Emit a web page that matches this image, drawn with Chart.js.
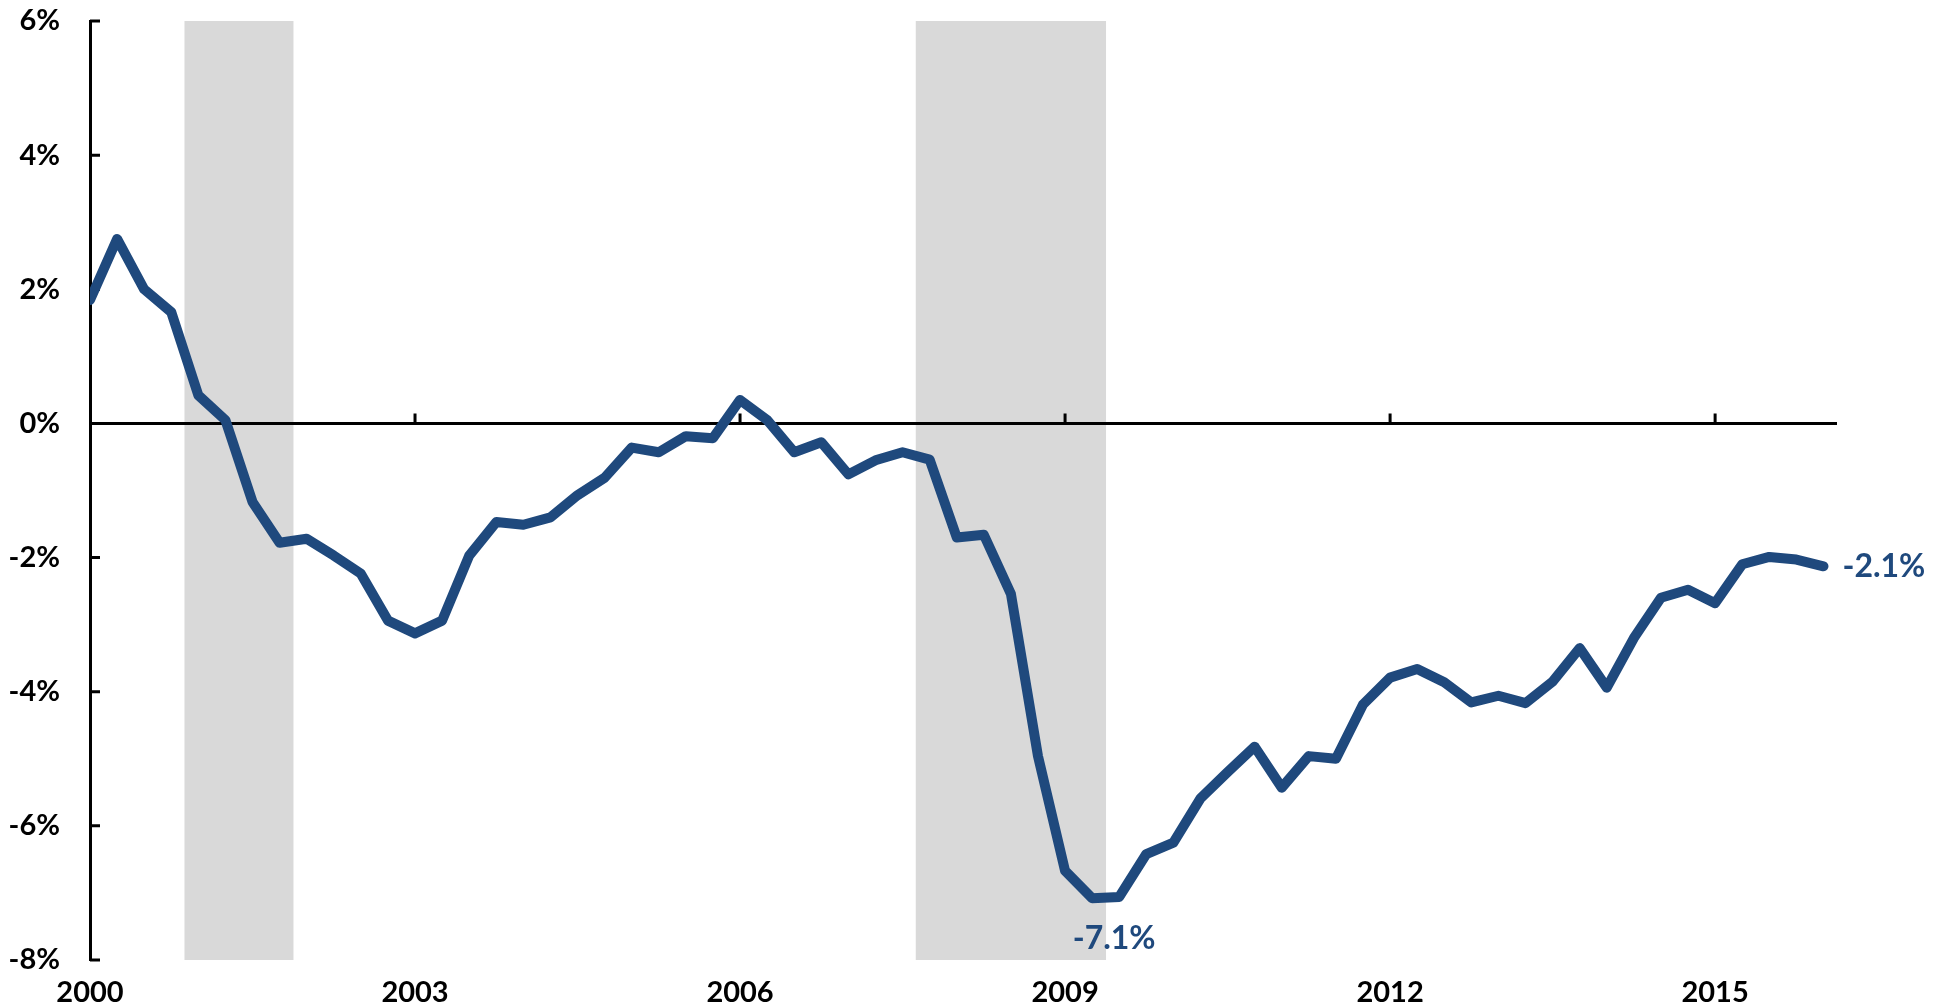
<!DOCTYPE html>
<html>
<head>
<meta charset="utf-8">
<script src="https://cdn.jsdelivr.net/npm/chart.js@4.4.1/dist/chart.umd.min.js"></script>
<style>
  html, body { margin: 0; padding: 0; background: #fff; }
  #wrap { width: 1948px; height: 1006px; position: relative; }
</style>
</head>
<body>
<div id="wrap"><canvas id="chart"></canvas></div>
<script>
// quarterly values, 2000 Q1 .. 2016 Q1 (%)
const startYear = 2000;
const values = [
  1.84, 2.75, 2.00, 1.66, 0.42, 0.05, -1.17, -1.78,
  -1.72, -1.97, -2.24, -2.94, -3.13, -2.94, -1.97, -1.47,
  -1.51, -1.40, -1.07, -0.81, -0.36, -0.43, -0.19, -0.22,
  0.35, 0.05, -0.43, -0.28, -0.76, -0.55, -0.43, -0.54,
  -1.70, -1.66, -2.54, -4.96, -6.67, -7.08, -7.06, -6.42,
  -6.25, -5.59, -5.20, -4.82, -5.43, -4.96, -5.00, -4.19,
  -3.79, -3.66, -3.86, -4.16, -4.06, -4.17, -3.85, -3.35,
  -3.94, -3.20, -2.60, -2.48, -2.68, -2.10, -1.99, -2.03,
  -2.13
];
const recessionQuarters = [
  '2001 Q1', '2001 Q2', '2001 Q3', '2001 Q4',
  '2007 Q4', '2008 Q1', '2008 Q2', '2008 Q3', '2008 Q4', '2009 Q1', '2009 Q2'
];
const xTickLabels = ['2000', '2003', '2006', '2009', '2012', '2015'];
const yTicks = [-8, -6, -4, -2, 0, 2, 4, 6];

const quarters = values.map((v, i) => (startYear + Math.floor(i / 4)) + ' Q' + (i % 4 + 1));

const lineColor = '#1F497D';
const shadeColor = '#D9D9D9';
const fontFamily = 'Lato, "Open Sans", sans-serif';

const yMin = yTicks[0];
const yMax = yTicks[yTicks.length - 1];

// axis decorations: zero line + inward ticks, drawn just before the main line
const axisDecor = {
  id: 'axisDecor',
  beforeDatasetDraw(chart, args) {
    if (args.index !== 1) return;
    const { ctx, chartArea } = chart;
    const x = chart.scales.x, y = chart.scales.y;
    const y0 = y.getPixelForValue(0);
    ctx.save();
    ctx.strokeStyle = '#000';
    ctx.lineWidth = 3;
    ctx.beginPath();
    ctx.moveTo(chartArea.left, y0);
    ctx.lineTo(chartArea.right, y0);
    // y ticks pointing right
    yTicks.forEach(t => {
      const py = y.getPixelForValue(t);
      ctx.moveTo(chartArea.left, py);
      ctx.lineTo(chartArea.left + 10, py);
    });
    // x ticks pointing up from zero line
    x.ticks.forEach(t => {
      if (t.value === 0) return;
      const px = x.getPixelForValue(t.value);
      ctx.moveTo(px, y0);
      ctx.lineTo(px, y0 - 10);
    });
    ctx.stroke();
    ctx.restore();
  },
  afterDatasetsDraw(chart) {
    const { ctx } = chart;
    const pts = chart.getDatasetMeta(1).data;
    const minVal = Math.min(...values);
    const minIdx = values.indexOf(minVal);
    const lastIdx = values.length - 1;
    ctx.save();
    ctx.fillStyle = lineColor;
    ctx.font = 'bold 32px ' + fontFamily;
    ctx.textBaseline = 'middle';
    ctx.textAlign = 'center';
    ctx.fillText(minVal.toFixed(1) + '%', pts[minIdx].x + 22, pts[minIdx].y + 40);
    ctx.textAlign = 'left';
    ctx.fillText(values[lastIdx].toFixed(1) + '%', pts[lastIdx].x + 19, pts[lastIdx].y);
    ctx.restore();
  }
};

const ctx = document.getElementById('chart').getContext('2d');
const chart = new Chart(ctx, {
  type: 'line',
  data: {
    datasets: [
      {
        type: 'bar',
        label: 'Recession',
        data: recessionQuarters.map(q => ({ x: quarters.indexOf(q), y: [yMin, yMax] })),
        backgroundColor: shadeColor,
        borderWidth: 0,
        barPercentage: 1,
        categoryPercentage: 1,
        order: 2
      },
      {
        type: 'line',
        label: 'Series',
        data: values.map((v, i) => ({ x: i, y: v })),
        borderColor: lineColor,
        borderWidth: 10,
        borderCapStyle: 'round',
        borderJoinStyle: 'round',
        pointRadius: 0,
        tension: 0,
        fill: false,
        order: 1
      }
    ]
  },
  options: {
    responsive: true,
    maintainAspectRatio: false,
    animation: false,
    layout: { padding: { top: 21, right: 111, bottom: 0, left: 0 } },
    plugins: {
      legend: { display: false },
      tooltip: { enabled: false }
    },
    scales: {
      x: {
        type: 'linear',
        min: 0,
        max: values.length - 0.5,
        offset: false,
        grid: { display: false, drawTicks: false },
        border: { display: false },
        afterFit: s => { s.height = 46; s.paddingLeft = 0; s.paddingRight = 0; },
        ticks: {
          stepSize: 12,
          includeBounds: false,
          autoSkip: false,
          maxRotation: 0,
          padding: 15,
          color: '#000',
          font: { family: fontFamily, size: 29, weight: 'bold' },
          callback: v => xTickLabels[v / 12]
        }
      },
      y: {
        min: yMin,
        max: yMax,
        grid: { display: true, color: 'transparent', drawTicks: false },
        border: { display: true, color: '#000', width: 3 },
        afterFit: s => { s.width = 90; s.paddingTop = 0; s.paddingBottom = 0; },
        ticks: {
          stepSize: 2,
          padding: 30,
          color: '#000',
          font: { family: fontFamily, size: 29, weight: 'bold' },
          callback: v => v + '%'
        }
      }
    }
  },
  plugins: [axisDecor]
});
</script>
</body>
</html>
